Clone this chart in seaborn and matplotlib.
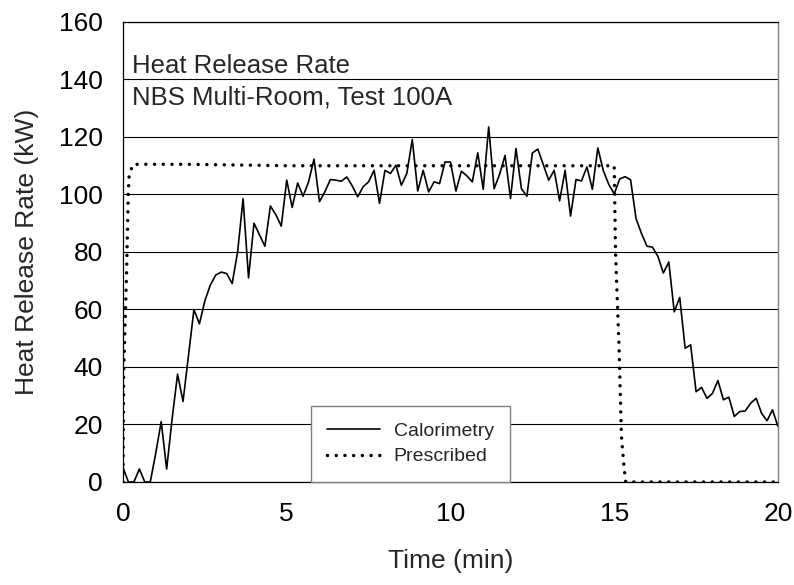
import numpy as np
import pandas as pd
import matplotlib
matplotlib.use("Agg")
import matplotlib.pyplot as plt
import seaborn as sns

# ---- data ----
# Calorimetry: one sample every 10 s (0 .. 1200 s)
cal_seconds = list(range(0, 1201, 10))
cal_hrr = [
    5, 0, 0, 4.5, 0, 0, 10, 21, 4.5, 22,
    37.5, 28, 44, 60, 55, 63, 68.5, 72, 73, 72.5,
    69, 80, 98.5, 71, 90, 86, 82, 96, 93, 89,
    105, 95.5, 104, 99.4, 104.4, 112.3, 97.5, 101, 105.2, 105,
    104.6, 106.1, 103, 99.2, 102.7, 104.4, 108.4, 96.9, 108.4, 107.3,
    110.2, 103.2, 107.3, 119.1, 101.2, 108.4, 100.9, 104.4, 103.8, 111.3,
    111.3, 101.2, 108.1, 106.5, 104.4, 114.5, 101.8, 123.5, 102, 107,
    113.6, 98.6, 116, 102, 99.4, 114.4, 115.8, 110.4, 105, 108.4,
    97.8, 108.4, 92.5, 105.2, 104.7, 109.6, 101.8, 116.2, 108.3, 103.5,
    100.2, 105.4, 106.2, 105.1, 91.6, 86.4, 82, 81.7, 78.5, 72.7,
    76.5, 59.2, 64.2, 46.5, 47.7, 31.4, 32.9, 29.1, 30.8, 35.3,
    28.6, 29.5, 22.8, 24.5, 24.7, 27.4, 29.1, 23.9, 21.3, 25.1,
    19.3,
]
cal_time = [s / 60 for s in cal_seconds]

# Prescribed fire curve
pres_time = [0, 0.02, 0.11, 0.16, 0.19, 0.31, 2.0, 5.0, 10.0, 15.0, 15.04, 15.15, 15.22, 15.30, 15.35, 20.0]
pres_hrr = [0, 38, 73, 100, 107, 110.5, 110.5, 110, 110, 110, 80, 46, 16, 5, 0, 0]

series_names = ["Calorimetry", "Prescribed"]
title_lines = ["Heat Release Rate", "NBS Multi-Room, Test 100A"]
x_ticks = [0, 5, 10, 15, 20]
y_ticks = [0, 20, 40, 60, 80, 100, 120, 140, 160]

cal_df = pd.DataFrame({"Time": cal_time, "HRR": cal_hrr})
pres_df = pd.DataFrame({"Time": pres_time, "HRR": pres_hrr})

# ---- style ----
sns.set_style("white")
plt.rcParams["font.family"] = ["Liberation Sans", "DejaVu Sans"]

fig = plt.figure(figsize=(7.94, 5.85), dpi=100)
ax = fig.add_axes([0.1549, 0.1761, 0.8249, 0.7863])

sns.lineplot(data=cal_df, x="Time", y="HRR", ax=ax, color="black", lw=1.2,
             label=series_names[0], estimator=None, sort=False)
sns.lineplot(data=pres_df, x="Time", y="HRR", ax=ax, color="black", lw=2.5,
             linestyle=(0, (0.01, 2.5)), dash_capstyle="round",
             label=series_names[1], estimator=None, sort=False)

ax.set_xlim(0, 20)
ax.set_ylim(0, 160)
ax.set_xticks(x_ticks)
ax.set_yticks(y_ticks)
ax.yaxis.grid(True, color="black", lw=0.8)
ax.xaxis.grid(False)
ax.set_axisbelow(True)

for side in ["left", "bottom", "top"]:
    ax.spines[side].set_color("black")
    ax.spines[side].set_linewidth(0.9)
ax.spines["right"].set_color("#808080")
ax.spines["right"].set_linewidth(1.0)

ax.tick_params(axis="both", direction="out", length=4.5, width=0.9, color="black",
               labelsize=19, labelcolor="black")
ax.tick_params(axis="y", pad=10)
ax.tick_params(axis="x", pad=10)

ax.set_xlabel("Time (min)", fontsize=19)
ax.set_ylabel("Heat Release Rate (kW)", fontsize=19)
ax.xaxis.set_label_coords(0.5, -0.145)
ax.yaxis.set_label_coords(-0.128, 0.5)

ax.text(0.27, 142.4, title_lines[0], fontsize=18.5, va="baseline", ha="left")
ax.text(0.27, 131.3, title_lines[1], fontsize=18.5, va="baseline", ha="left")

leg = ax.legend(loc="lower left", bbox_to_anchor=(0.287, 0.0), borderaxespad=0,
                fontsize=14, frameon=True, fancybox=False, framealpha=1,
                edgecolor="#808080", handlelength=2.7, handletextpad=0.7,
                borderpad=0.85, labelspacing=0.4)
leg.get_frame().set_linewidth(1.0)

fig.savefig("out.png", dpi=100)
